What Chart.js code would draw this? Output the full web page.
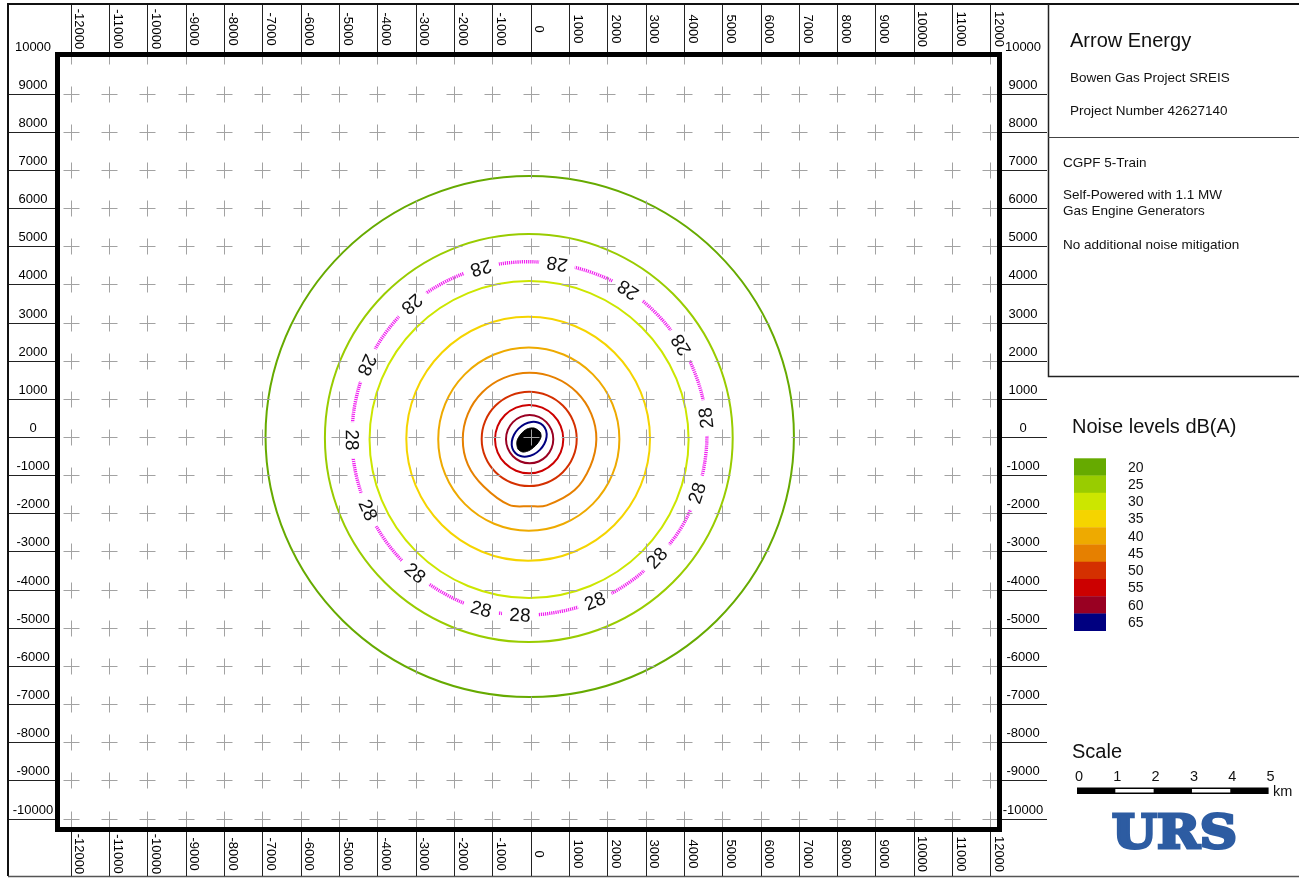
<!DOCTYPE html>
<html>
<head>
<meta charset="utf-8">
<title>Bowen Gas Project SREIS - CGPF 5-Train noise contours</title>
<script src="https://cdn.jsdelivr.net/npm/chart.js@4.4.1/dist/chart.umd.min.js"></script>
<style>
  html, body { margin: 0; padding: 0; background: #fff; }
  canvas { display: block; }
</style>
</head>
<body>
<canvas id="map" width="1299" height="878"></canvas>
<script>
const FONT = '"Liberation Sans", Arial, Helvetica, sans-serif';

// Grid / tick values (metres from the CGPF)
const xTicks = [-12000, -11000, -10000, -9000, -8000, -7000, -6000, -5000, -4000, -3000, -2000, -1000,
  0, 1000, 2000, 3000, 4000, 5000, 6000, 7000, 8000, 9000, 10000, 11000, 12000];
const yTicks = [10000, 9000, 8000, 7000, 6000, 5000, 4000, 3000, 2000, 1000,
  0, -1000, -2000, -3000, -4000, -5000, -6000, -7000, -8000, -9000, -10000];

// Noise level classes dB(A) and their colours
const levels = [20, 25, 30, 35, 40, 45, 50, 55, 60, 65];
const levelColors = ['#66aa00', '#99cc00', '#cce600', '#f5d400', '#eeaa00',
  '#e68000', '#d43000', '#cc0000', '#990022', '#000080'];

// Closed contour lines [x, y] in metres (each ring is closed back to its first vertex)
const contour20 = [[6872, 13], [6347, 2626], [4852, 4841], [2616, 6321], [-23, 6841], [-2662, 6321],
  [-4898, 4841], [-6393, 2626], [-6918, 13], [-6393, -2600], [-4898, -4815], [-2662, -6295],
  [-23, -6815], [2616, -6295], [4852, -4815], [6347, -2600]];
const contour25 = [[5274, -26], [4869, 2020], [3715, 3755], [1989, 4914], [-47, 5321], [-2083, 4914],
  [-3809, 3755], [-4963, 2020], [-5368, -26], [-4963, -2072], [-3809, -3807], [-2083, -4966],
  [-47, -5373], [1989, -4966], [3715, -3807], [4869, -2072]];
const contour28 = [[-4661, -79], [-4548, -1016], [-4244, -1913], [-3723, -2806], [-3017, -3565],
  [-2204, -4129], [-1294, -4509], [-277, -4666], [726, -4583], [1681, -4299], [2559, -3822],
  [3299, -3172], [3924, -2387], [4343, -1468], [4568, -496], [4578, 498], [4357, 1492],
  [3925, 2412], [3310, 3208], [2542, 3853], [1648, 4295], [689, 4535], [-313, 4589],
  [-1294, 4430], [-2250, 4058], [-3095, 3486], [-3769, 2749], [-4270, 1887], [-4573, 922]];
const contour30 = [[4123, -66], [3806, 1524], [2904, 2872], [1553, 3773], [-40, 4089], [-1633, 3773],
  [-2984, 2872], [-3886, 1524], [-4203, -66], [-3886, -1656], [-2984, -3004], [-1633, -3905],
  [-40, -4221], [1553, -3905], [2904, -3004], [3806, -1656]];
const contour35 = [[3116, -45], [2874, 1179], [2185, 2216], [1153, 2910], [-64, 3153], [-1281, 2910],
  [-2313, 2216], [-3002, 1179], [-3244, -45], [-3002, -1269], [-2313, -2306], [-1281, -3000],
  [-64, -3243], [1153, -3000], [2185, -2306], [2874, -1269]];
const contour40 = [[2317, -55], [2137, 864], [1625, 1643], [858, 2163], [-47, 2346], [-952, 2163],
  [-1719, 1643], [-2231, 864], [-2411, -55], [-2231, -974], [-1719, -1753], [-952, -2273],
  [-47, -2456], [858, -2273], [1625, -1753], [2137, -974]];
const contour45 = [[1716, -56], [1583, 610], [1205, 1175], [640, 1552], [-27, 1685], [-694, 1552],
  [-1259, 1175], [-1637, 610], [-1770, -56], [-1637, -722], [-1230, -1290], [-560, -1780],
  [-27, -1812], [420, -1790], [1150, -1390], [1560, -760]];
const contour50 = [[1203, -49], [1109, 424], [840, 825], [438, 1093], [-37, 1187], [-512, 1093],
  [-914, 825], [-1183, 424], [-1277, -49], [-1183, -522], [-914, -923], [-512, -1191],
  [-37, -1285], [438, -1191], [840, -923], [1109, -522]];
const contour55 = [[853, -56], [785, 287], [592, 577], [303, 771], [-38, 839], [-379, 771],
  [-668, 577], [-861, 287], [-929, -56], [-861, -399], [-668, -689], [-379, -883],
  [-38, -951], [303, -883], [592, -689], [785, -399]];
const contour60 = [[592, -56], [545, 186], [411, 392], [211, 529], [-25, 577], [-261, 529],
  [-461, 392], [-595, 186], [-642, -56], [-595, -298], [-461, -504], [-261, -641],
  [-25, -689], [211, -641], [411, -504], [545, -298]];
const contour65 = [[325, 304], [191, 383], [22, 395], [-156, 338], [-316, 221], [-433, 61],
  [-490, -117], [-478, -286], [-399, -420], [-265, -499], [-96, -511], [82, -454],
  [242, -337], [359, -177], [416, 1], [404, 170]];

// Plant footprint
const sourceOutline = [[271, 0], [245, 131], [89, 236], [-94, 210], [-251, 79], [-355, -105],
  [-329, -315], [-198, -393], [-16, -341], [167, -183]];

// In-line labels on the 28 dB(A) contour
const labels28 = [[-1294, 4430], [689, 4535], [2542, 3853], [3925, 2412], [4578, 498], [4343, -1468],
  [3299, -3172], [1681, -4299], [-277, -4666], [-1294, -4509], [-3017, -3565], [-4244, -1913],
  [-4661, -79], [-4270, 1887], [-3095, 3486]];
const labels28Centre = [-30, -30];

// Title block text
const titleLines = [
  { text: 'Arrow Energy', x: 1070, y: 46.5, size: 20 },
  { text: 'Bowen Gas Project SREIS', x: 1070, y: 81.5, size: 13.5 },
  { text: 'Project Number 42627140', x: 1070, y: 115, size: 13.5 },
  { text: 'CGPF 5-Train', x: 1063, y: 166.5, size: 13.5 },
  { text: 'Self-Powered with 1.1 MW', x: 1063, y: 199, size: 13.5 },
  { text: 'Gas Engine Generators', x: 1063, y: 215, size: 13.5 },
  { text: 'No additional noise mitigation', x: 1063, y: 248.5, size: 13.5 }
];
const scaleKm = [0, 1, 2, 3, 4, 5];

const toXY = arr => arr.map(([x, y]) => ({ x, y }));
const lineSet = (label, pts, color, extra) => Object.assign({
  label, data: toXY(pts), showLine: true, borderColor: color, backgroundColor: color,
  borderWidth: 2, pointRadius: 0, pointHoverRadius: 0, tension: 0.35, fill: false
}, extra || {});

const datasets = [
  lineSet('20 dB(A)', contour20, levelColors[0]),
  lineSet('25 dB(A)', contour25, levelColors[1]),
  lineSet('28 dB(A)', contour28, '#f020f0', { borderWidth: 3.4, borderDash: [1.2, 0.9] }),
  lineSet('30 dB(A)', contour30, levelColors[2]),
  lineSet('35 dB(A)', contour35, levelColors[3]),
  lineSet('40 dB(A)', contour40, levelColors[4]),
  lineSet('45 dB(A)', contour45, levelColors[5]),
  lineSet('50 dB(A)', contour50, levelColors[6]),
  lineSet('55 dB(A)', contour55, levelColors[7]),
  lineSet('60 dB(A)', contour60, levelColors[8]),
  lineSet('65 dB(A)', contour65, levelColors[9]),
  lineSet('CGPF', sourceOutline, '#000', { fill: 'shape', borderWidth: 1, tension: 0.3 })
];
const LABELLED_INDEX = 2;

function labelGeometry(chart) {
  const { x, y } = chart.scales;
  const cx = x.getPixelForValue(labels28Centre[0]);
  const cy = y.getPixelForValue(labels28Centre[1]);
  return labels28.map(([vx, vy]) => {
    const px = x.getPixelForValue(vx), py = y.getPixelForValue(vy);
    return { px, py, rot: Math.atan2(py - cy, px - cx) - Math.PI / 2 };
  });
}

// contours are closed rings: let the line element join the last vertex to the first smoothly
const closedRings = {
  id: 'closedRings',
  afterDatasetsUpdate(chart) {
    chart.data.datasets.forEach((ds, i) => {
      const line = chart.getDatasetMeta(i).dataset;
      if (line) { line._loop = true; line._fullLoop = true; }
    });
  }
};

const mapDecor = {
  id: 'mapDecor',
  beforeDraw(chart) {
    const { ctx, width, height } = chart;
    ctx.save();
    ctx.fillStyle = '#fff';
    ctx.fillRect(0, 0, width, height);
    ctx.restore();
  },
  // leave gaps in the labelled contour where its labels sit
  beforeDatasetDraw(chart, args) {
    if (args.index !== LABELLED_INDEX) return;
    const ctx = chart.ctx;
    ctx.save();
    ctx.beginPath();
    ctx.rect(0, 0, chart.width, chart.height);
    for (const g of labelGeometry(chart)) {
      const c = Math.cos(g.rot), s = Math.sin(g.rot), hw = 18, hh = 10;
      const pts = [[-hw, -hh], [hw, -hh], [hw, hh], [-hw, hh]]
        .map(([u, v]) => [g.px + u * c - v * s, g.py + u * s + v * c]);
      ctx.moveTo(pts[0][0], pts[0][1]);
      for (let i = 1; i < 4; i++) ctx.lineTo(pts[i][0], pts[i][1]);
      ctx.closePath();
    }
    ctx.clip('evenodd');
  },
  afterDatasetDraw(chart, args) {
    if (args.index === LABELLED_INDEX) chart.ctx.restore();
  },
  afterDatasetsDraw(chart) {
    const { ctx, chartArea: a, scales: { x, y } } = chart;
    ctx.save();
    ctx.beginPath();
    ctx.rect(a.left, a.top, a.right - a.left, a.bottom - a.top);
    ctx.clip();
    // grid crosses
    ctx.strokeStyle = '#a2a2a2';
    ctx.lineWidth = 1;
    ctx.beginPath();
    for (const xv of xTicks) {
      const px = Math.round(x.getPixelForValue(xv)) + 0.5;
      for (const yv of yTicks) {
        const py = Math.round(y.getPixelForValue(yv)) + 0.5;
        ctx.moveTo(px - 8, py); ctx.lineTo(px + 8, py);
        ctx.moveTo(px, py - 8); ctx.lineTo(px, py + 8);
      }
    }
    ctx.stroke();
    // contour labels
    ctx.fillStyle = '#111';
    ctx.font = '19px ' + FONT;
    ctx.textAlign = 'center';
    ctx.textBaseline = 'middle';
    for (const g of labelGeometry(chart)) {
      ctx.save();
      ctx.translate(g.px, g.py);
      ctx.rotate(g.rot);
      ctx.fillText('28', 0, 1);
      ctx.restore();
    }
    ctx.restore();
  },
  afterDraw(chart) {
    const { ctx, chartArea: a, scales: { x, y } } = chart;
    ctx.save();
    // map frame
    ctx.strokeStyle = '#000';
    ctx.lineWidth = 5;
    ctx.strokeRect(a.left + 0.5, a.top + 0.5, a.right - a.left - 1, a.bottom - a.top - 1);

    // outer sheet border
    ctx.lineWidth = 2;
    ctx.strokeStyle = '#111';
    ctx.beginPath();
    ctx.moveTo(8, 876); ctx.lineTo(8, 4); ctx.lineTo(1299, 4);
    ctx.stroke();
    ctx.lineWidth = 1.5;
    ctx.strokeStyle = '#555';
    ctx.beginPath();
    ctx.moveTo(8, 876.5); ctx.lineTo(1299, 876.5);
    ctx.stroke();

    // tick label cells
    ctx.lineWidth = 1;
    ctx.strokeStyle = '#222';
    ctx.beginPath();
    for (const xv of xTicks) {
      const px = Math.round(x.getPixelForValue(xv)) + 0.5;
      ctx.moveTo(px, 5); ctx.lineTo(px, a.top - 2);
      ctx.moveTo(px, a.bottom + 2); ctx.lineTo(px, 876);
    }
    for (const yv of yTicks) {
      if (yv === yTicks[0]) continue;
      const py = Math.round(y.getPixelForValue(yv)) + 0.5;
      ctx.moveTo(9, py); ctx.lineTo(a.left - 2, py);
      ctx.moveTo(a.right + 2, py); ctx.lineTo(1047, py);
    }
    ctx.stroke();

    ctx.fillStyle = '#000';
    ctx.font = '13px ' + FONT;
    ctx.textAlign = 'center';
    ctx.textBaseline = 'alphabetic';
    for (const xv of xTicks) {
      const px = x.getPixelForValue(xv);
      for (const cy of [29, 854]) {
        ctx.save();
        ctx.translate(px + 4.7, cy);
        ctx.rotate(Math.PI / 2);
        ctx.fillText(String(xv), 0, 0);
        ctx.restore();
      }
    }
    for (const yv of yTicks) {
      const py = y.getPixelForValue(yv) - 5;
      ctx.fillText(String(yv), 33, py);
      ctx.fillText(String(yv), 1023, py);
    }

    // title block
    ctx.strokeStyle = '#222';
    ctx.lineWidth = 1.5;
    ctx.beginPath();
    ctx.moveTo(1048.5, 4); ctx.lineTo(1048.5, 376.5); ctx.lineTo(1299, 376.5);
    ctx.stroke();
    ctx.lineWidth = 1;
    ctx.strokeStyle = '#444';
    ctx.beginPath();
    ctx.moveTo(1048, 137.5); ctx.lineTo(1299, 137.5);
    ctx.stroke();
    ctx.textAlign = 'left';
    ctx.fillStyle = '#111';
    for (const t of titleLines) {
      ctx.font = t.size + 'px ' + FONT;
      ctx.fillText(t.text, t.x, t.y);
    }

    // colour legend
    ctx.font = '20px ' + FONT;
    ctx.fillText('Noise levels dB(A)', 1072, 432.5);
    const top = 458.3, step = 17.24;
    ctx.font = '14px ' + FONT;
    ctx.textBaseline = 'middle';
    levels.forEach((lv, i) => {
      ctx.fillStyle = levelColors[i];
      ctx.fillRect(1074, top + i * step, 32, step + 0.3);
      ctx.fillStyle = '#111';
      ctx.fillText(String(lv), 1128, top + i * step + step / 2 + 1);
    });

    // scale bar (1 km taken from the x scale)
    ctx.textBaseline = 'alphabetic';
    ctx.font = '20px ' + FONT;
    ctx.fillText('Scale', 1072, 758);
    const kmPx = x.getPixelForValue(1000) - x.getPixelForValue(0);
    const bx = 1077, by = 787.5, bh = 6.5;
    ctx.fillStyle = '#000';
    ctx.fillRect(bx, by, kmPx * 5, bh);
    ctx.fillStyle = '#fff';
    for (const k of [1, 3]) ctx.fillRect(bx + kmPx * k, by + 1.5, kmPx, bh - 3);
    ctx.fillStyle = '#111';
    ctx.font = '14.5px ' + FONT;
    ctx.textAlign = 'center';
    for (const k of scaleKm) ctx.fillText(String(k), bx + 2 + kmPx * k, 781);
    ctx.textAlign = 'left';
    ctx.fillText('km', 1273, 796);

    // company logo
    ctx.fillStyle = '#2d5ca2';
    ctx.strokeStyle = '#2d5ca2';
    ctx.font = 'bold 46px "DejaVu Serif", serif';
    const w = ctx.measureText('URS').width;
    ctx.save();
    ctx.translate(1112, 848);
    ctx.scale(125 / w, 1);
    ctx.lineWidth = 3;
    ctx.lineJoin = 'miter';
    ctx.fillText('URS', 0, 0);
    ctx.strokeText('URS', 0, 0);
    ctx.restore();

    ctx.restore();
  }
};

new Chart(document.getElementById('map'), {
  type: 'scatter',
  data: { datasets },
  options: {
    responsive: false,
    devicePixelRatio: 1,
    animation: false,
    events: [],
    layout: { padding: { left: 57, top: 54, right: 299, bottom: 48 } },
    scales: {
      x: { type: 'linear', min: -12360, max: 12250, display: false },
      y: { type: 'linear', min: -10300, max: 10040, display: false }
    },
    plugins: {
      legend: { display: false },
      tooltip: { enabled: false },
      title: { display: false }
    }
  },
  plugins: [closedRings, mapDecor]
});
</script>
</body>
</html>
